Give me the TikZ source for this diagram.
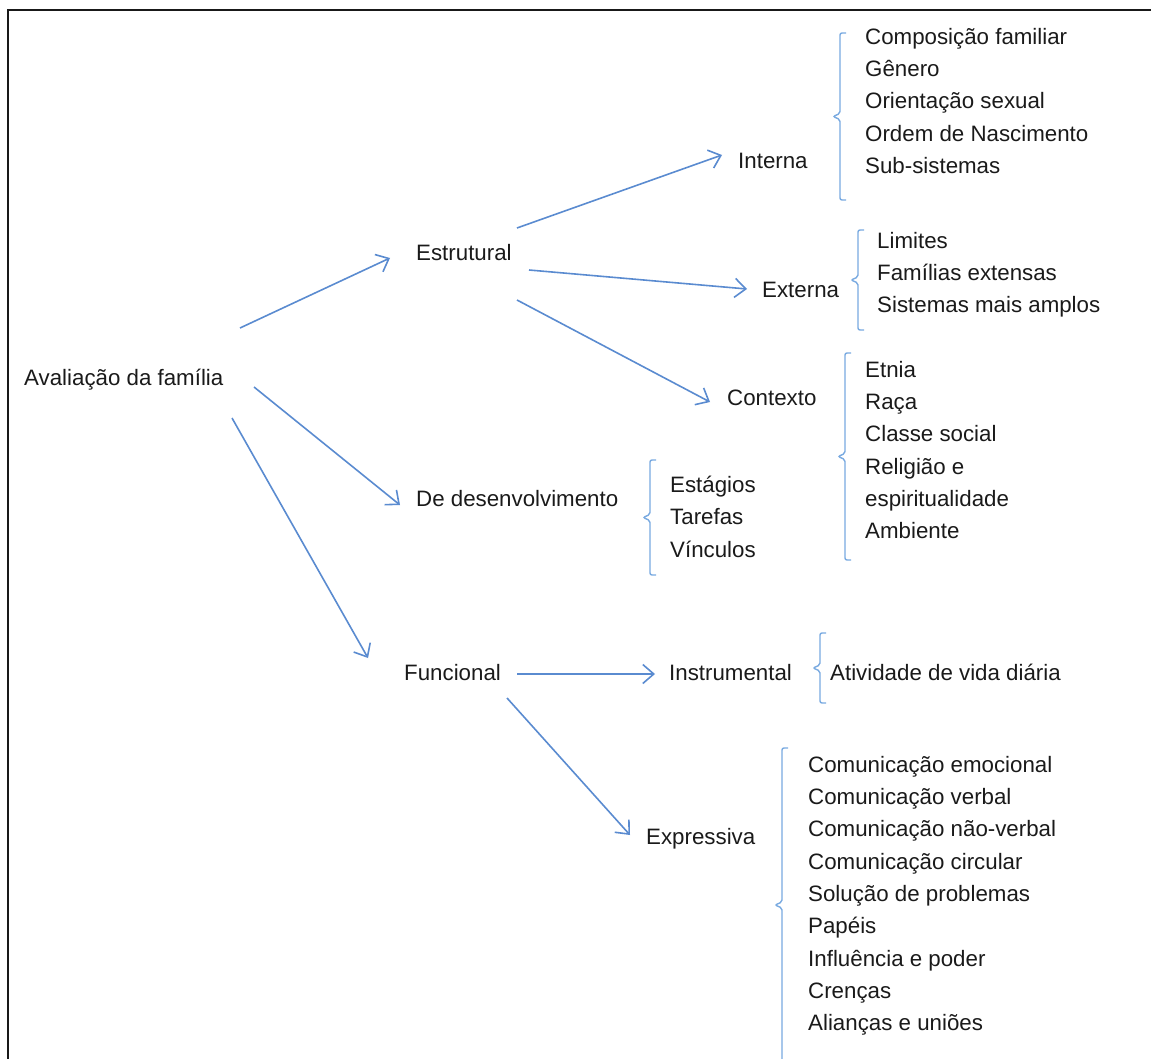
\documentclass[tikz,border=0pt]{standalone}
\usepackage{fontspec}
\setmainfont{Liberation Sans}
\usetikzlibrary{arrows.meta}
\definecolor{arrowblue}{HTML}{5A8BD0}
\definecolor{braceblue}{HTML}{78A9E0}
\definecolor{ink}{HTML}{1A1A1A}
% left curly brace: x, top, bottom
\newcommand{\famBrace}[3]{%
  \draw[bracestyle] ({#1+6},{#2}) -- ({#1},{#2}) -- ({#1},{(#2+#3)/2-3})
    -- ({#1-7},{(#2+#3)/2}) -- ({#1},{(#2+#3)/2+3}) -- ({#1},{#3}) -- ({#1+6},{#3});}
\begin{document}
\begin{tikzpicture}[x=1pt,y=-1pt,
  lbl/.style={anchor=base west,inner sep=0pt,text=ink,font=\fontsize{22.3}{32.3}\selectfont},
  lst/.style={anchor=north west,inner sep=0pt,text=ink,align=left,font=\fontsize{22.3}{32.3}\selectfont},
  arr/.style={draw=arrowblue,line width=1.6pt,-{Straight Barb[length=11pt,width=19pt,line width=1.6pt]}},
  bracestyle/.style={draw=braceblue,line width=1.4pt,rounded corners=2pt}]
\useasboundingbox (0,0) rectangle (1151,1059);
% frame
\draw[line width=2pt,black!90] (8,1070) -- (8,10) -- (1160,10);

% tree labels
\node[lbl] (aval) at (24,385) {Avaliação da família};
\node[lbl] (est) at (416,261) {Estrutural};
\node[lbl] (int) at (738,169) {Interna};
\node[lbl] (ext) at (762,298) {Externa};
\node[lbl] (ctx) at (727,405) {Contexto};
\node[lbl] (des) at (416,506) {De desenvolvimento};
\node[lbl] (fun) at (404,680) {Funcional};
\node[lbl] (ins) at (669,680) {Instrumental};
\node[lbl] (exp) at (646,844) {Expressiva};

% item lists
\node[lst] (intl) at (865,28) {Composição familiar\\Gênero\\Orientação sexual\\Ordem de Nascimento\\Sub-sistemas};
\node[lst] (extl) at (877,232) {Limites\\Famílias extensas\\Sistemas mais amplos};
\node[lst] (ctxl) at (865,361) {Etnia\\Raça\\Classe social\\Religião e\\espiritualidade\\Ambiente};
\node[lst] (desl) at (670,476) {Estágios\\Tarefas\\Vínculos};
\node[lst] (insl) at (830,664) {Atividade de vida diária};
\node[lst] (expl) at (808,756) {Comunicação emocional\\Comunicação verbal\\Comunicação não-verbal\\Comunicação circular\\Solução de problemas\\Papéis\\Influência e poder\\Crenças\\Alianças e uniões};

% braces
\famBrace{840}{33}{200}
\famBrace{858}{230}{330}
\famBrace{845}{353}{560}
\famBrace{650}{460}{575}
\famBrace{820}{633}{703}
\famBrace{782}{748}{1062}

% arrows
\draw[arr] ([shift={(216,-57)}]aval.base west) -- ([shift={(-26,-3)}]est.base west);
\draw[arr] ([shift={(101,-33)}]est.base west) -- ([shift={(-16,-14)}]int.base west);
\draw[arr] ([shift={(113,9)}]est.base west) -- ([shift={(-15,-9)}]ext.base west);
\draw[arr] ([shift={(101,39)}]est.base west) -- ([shift={(-17,-3)}]ctx.base west);
\draw[arr] ([shift={(230,2)}]aval.base west) -- ([shift={(-16,-1)}]des.base west);
\draw[arr] ([shift={(208,33)}]aval.base west) -- ([shift={(-36,-22)}]fun.base west);
\draw[arr] ([shift={(113,-6)}]fun.base west) -- ([shift={(-14,-6)}]ins.base west);
\draw[arr] ([shift={(103,18)}]fun.base west) -- ([shift={(-16,-9)}]exp.base west);
\end{tikzpicture}
\end{document}
